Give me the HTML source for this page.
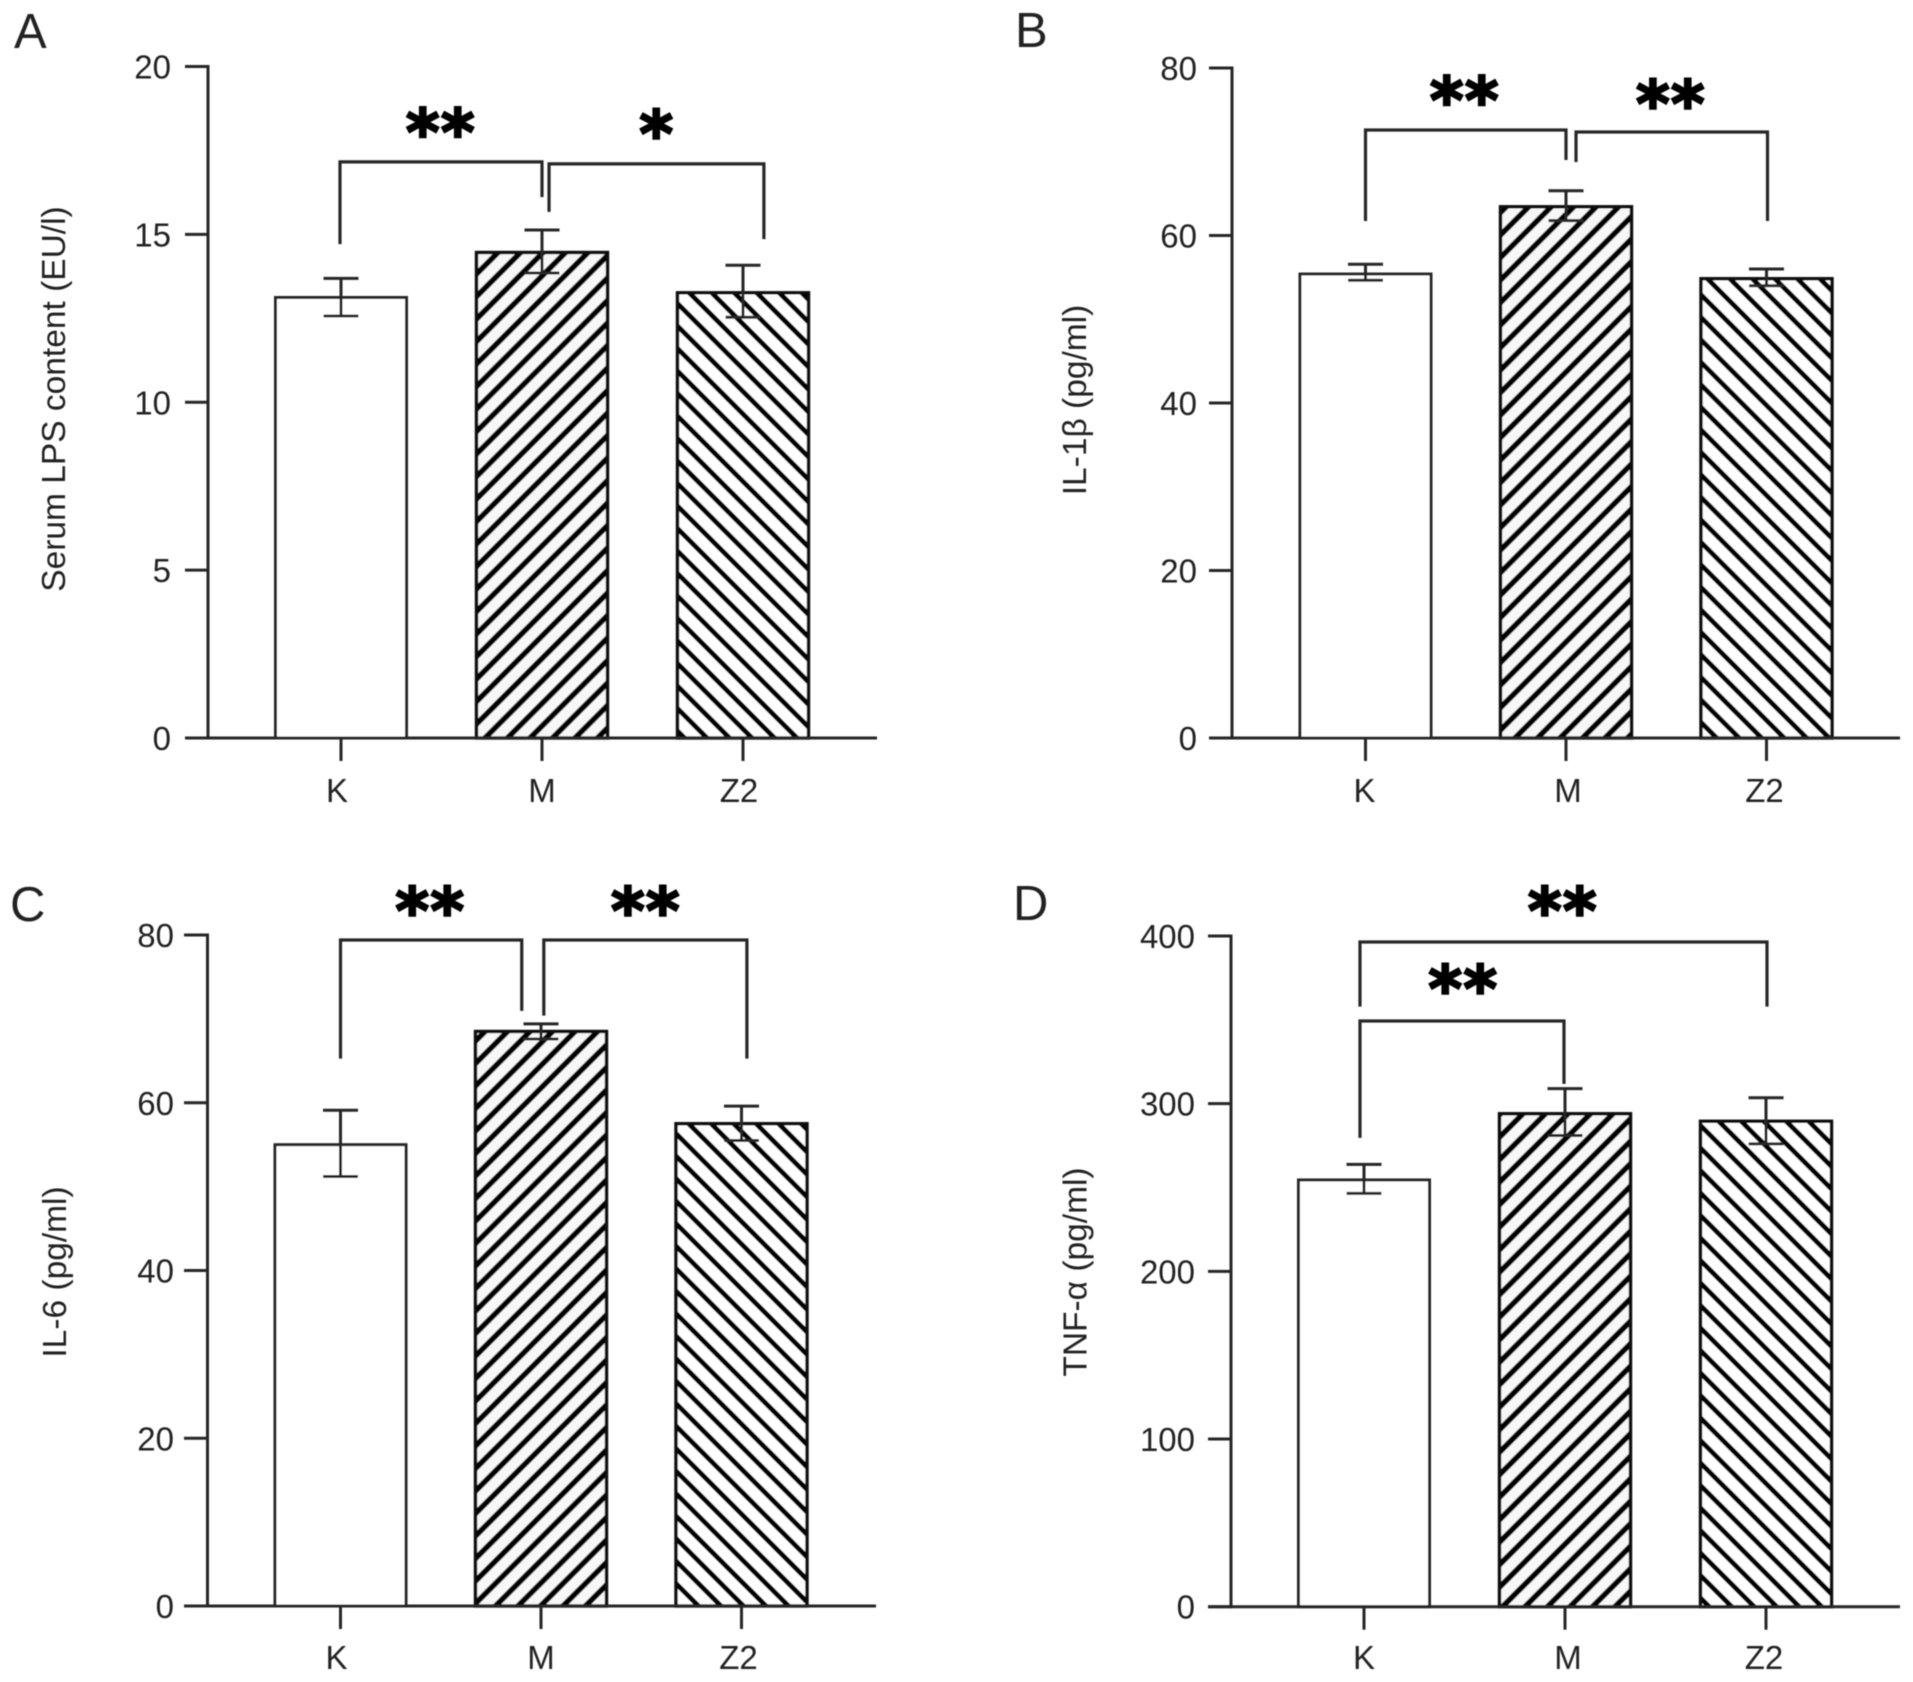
<!DOCTYPE html>
<html lang="en">
<head>
<meta charset="utf-8">
<title>Serum LPS and cytokine bar charts</title>
<style>
html,body{margin:0;padding:0;background:#fff;}
svg{display:block;}
text{font-family:"Liberation Sans",Arial,sans-serif;fill:#222;}
.star{font-family:"DejaVu Sans",sans-serif;font-weight:bold;fill:#000;stroke:#000;stroke-width:2.4;letter-spacing:1.5px;}
</style>
</head>
<body>
<svg id="figure" xmlns="http://www.w3.org/2000/svg" width="1913" height="1682" viewBox="0 0 1913 1682">
  <defs>
    <filter id="soft" x="-2%" y="-2%" width="104%" height="104%"><feGaussianBlur stdDeviation="0.6"/></filter>
  </defs>
  <rect width="1913" height="1682" fill="#fff"/>
  <g id="plot-root" filter="url(#soft)"></g>
</svg>
<script>
const categories = ['K', 'M', 'Z2'];

const panelAMeans = [13.12, 14.46, 13.26];
const panelAUpper = [13.69, 15.13, 14.08];
const panelALower = [12.57, 13.85, 12.53];
const panelATicks = [0, 5, 10, 15, 20];

const panelBMeans = [55.4, 63.43, 54.84];
const panelBUpper = [56.57, 65.35, 56.0];
const panelBLower = [54.65, 61.77, 54.0];
const panelBTicks = [0, 20, 40, 60, 80];

const panelCMeans = [55.0, 68.5, 57.5];
const panelCUpper = [59.1, 69.4, 59.6];
const panelCLower = [51.2, 67.6, 55.5];
const panelCTicks = [0, 20, 40, 60, 80];

const panelDMeans = [254.5, 294, 289.5];
const panelDUpper = [263.8, 309, 303.5];
const panelDLower = [246.5, 281, 276];
const panelDTicks = [0, 100, 200, 300, 400];

/* Significance brackets: [from category, to category, top value, left foot value, right foot value] */
const panelABrackets = [[-0.005, 1.0, 17.16, 14.71, 16.11], [1.035, 2.104, 17.10, 15.67, 14.86]];
const panelBBrackets = [[0, 1.0, 72.6, 61.73, 69.01], [1.05, 2.005, 72.36, 68.78, 61.73]];
const panelCBrackets = [[0, 0.904, 79.4, 65.26, 70.96], [1.014, 2.027, 79.4, 70.39, 65.26]];
const panelDBrackets = [[-0.02, 2.005, 396.4, 357.9, 357.9], [-0.02, 0.995, 349.3, 279.6, 311.8]];

/* Significance marks: [label, category position, value] */
const panelAStars = [['**', 0.4975, 18.36], ['*', 1.572, 18.32]];
const panelBStars = [['**', 0.496, 77.46], ['**', 1.524, 77.06]];
const panelCStars = [['**', 0.449, 84.2], ['**', 1.524, 84.2]];
const panelDStars = [['**', 0.99, 421.5], ['**', 0.495, 375.0]];

const panels = [
  {id: 'a', letter: 'A', title: 'Serum LPS content (EU/l)', means: panelAMeans, upper: panelAUpper, lower: panelALower, ticks: panelATicks, brackets: panelABrackets, stars: panelAStars,
   axisX: 208, leftTick: 185, axisEnd: 877, y0: 738, yTop: 66.5, max: 20, x0: 341, step: 201, labelRight: 171, titleX: 54, titleY: 399, letterX: 14, letterY: 48, labelY: 802, labelDx: [-4, 0, -4], hatchM: 8, hatchZ: 14},
  {id: 'b', letter: 'B', title: 'IL-1β (pg/ml)', means: panelBMeans, upper: panelBUpper, lower: panelBLower, ticks: panelBTicks, brackets: panelBBrackets, stars: panelBStars,
   axisX: 1232, leftTick: 1209, axisEnd: 1900, y0: 738, yTop: 68, max: 80, x0: 1365.5, step: 200.5, labelRight: 1197, titleX: 1075, titleY: 400, letterX: 1015, letterY: 47, labelDx: [-1, 2, -2], labelY: 802, hatchM: 3, hatchZ: 11.2},
  {id: 'c', letter: 'C', title: 'IL-6 (pg/ml)', means: panelCMeans, upper: panelCUpper, lower: panelCLower, ticks: panelCTicks, brackets: panelCBrackets, stars: panelCStars,
   axisX: 207.5, leftTick: 184, axisEnd: 876, y0: 1606, yTop: 935, max: 80, x0: 340.5, step: 200.5, labelRight: 174, titleX: 55, titleY: 1272, letterX: 10, letterY: 921, labelY: 1669, labelDx: [-4, 0, -3], hatchM: 9, hatchZ: 15},
  {id: 'd', letter: 'D', title: 'TNF-α (pg/ml)', means: panelDMeans, upper: panelDUpper, lower: panelDLower, ticks: panelDTicks, brackets: panelDBrackets, stars: panelDStars,
   axisX: 1231, leftTick: 1208, axisEnd: 1900, y0: 1606.7, yTop: 936, max: 400, x0: 1364, step: 201, labelRight: 1195, titleX: 1075.5, titleY: 1272, letterX: 1013, letterY: 920, labelY: 1669, labelDx: [0, 3, -2], hatchM: 4.2, hatchZ: 12.5}
];

const SVG_NS = 'http://www.w3.org/2000/svg';
const INK = '#262626';
const BAR_WIDTH = 131;
const CAP_HALF = 17.5;
const HATCH_PERIOD = 22.5;
const FONT_SIZE = 33;
const TITLE_SIZE = 33.5;
const LETTER_SIZE = 49;
const STAR_SIZE = 64;

const svg = document.getElementById('figure');
const defs = svg.querySelector('defs');
const root = document.getElementById('plot-root');

function make(tag, attrs, parent) {
  const el = document.createElementNS(SVG_NS, tag);
  for (const k in attrs) el.setAttribute(k, attrs[k]);
  parent.appendChild(el);
  return el;
}

function addHatch(id, angle, offset, stripe, bg) {
  const perp = HATCH_PERIOD / Math.SQRT2;
  const pat = make('pattern', {
    id: id, patternUnits: 'userSpaceOnUse', width: perp, height: perp,
    patternTransform: 'translate(' + offset + ' 0) rotate(' + angle + ')'
  }, defs);
  make('rect', {x: 0, y: 0, width: perp, height: perp, fill: bg}, pat);
  make('rect', {x: -stripe / 2, y: 0, width: stripe, height: perp, fill: '#000'}, pat);
  make('rect', {x: perp - stripe / 2, y: 0, width: stripe, height: perp, fill: '#000'}, pat);
}

function drawPanel(p) {
  const x = function (c) { return p.x0 + c * p.step; };
  const y = function (v) { return p.y0 - (v / p.max) * (p.y0 - p.yTop); };

  const g = make('g', {}, root);
  
  

  const letter = make('text', {x: p.letterX, y: p.letterY, 'font-size': LETTER_SIZE}, g);
  letter.textContent = p.letter;
  
  

  const title = make('text', {
    x: p.titleX + 11, y: p.titleY, 'font-size': TITLE_SIZE, 'text-anchor': 'middle',
    transform: 'rotate(-90 ' + (p.titleX + 11) + ' ' + p.titleY + ')'
  }, g);
  title.textContent = p.title;
  
  

  addHatch('hatch-m-' + p.id, 45, p.hatchM, 5.5, '#f7f7f7');
  addHatch('hatch-z-' + p.id, -45, p.hatchZ, 5.0, '#ffffff');
  const fills = ['#ffffff', 'url(#hatch-m-' + p.id + ')', 'url(#hatch-z-' + p.id + ')'];

  p.means.forEach(function (value, i) {
    const top = y(value);
    const bar = make('rect', {
      x: x(i) - BAR_WIDTH / 2, y: top, width: BAR_WIDTH, height: p.y0 - top,
      fill: fills[i], stroke: i === 0 ? INK : '#111', 'stroke-width': i === 0 ? 3 : 3.4
    }, g);
    
    
  });

  p.means.forEach(function (value, i) {
    const cx = x(i);
    const hi = y(p.upper[i]);
    const lo = y(p.lower[i]);
    const err = make('path', {
      d: 'M' + (cx - CAP_HALF) + ' ' + hi + 'H' + (cx + CAP_HALF) +
         'M' + cx + ' ' + hi + 'V' + lo +
         'M' + (cx - CAP_HALF) + ' ' + lo + 'H' + (cx + CAP_HALF),
      fill: 'none', stroke: INK, 'stroke-width': 3
    }, g);
    
    
  });

  const yAxis = make('line', {x1: p.axisX, x2: p.axisX, y1: y(p.max) - 1.5, y2: p.y0 + 1.5, stroke: INK, 'stroke-width': 3}, g);
  
  

  const xAxis = make('line', {x1: p.leftTick, x2: p.axisEnd, y1: p.y0, y2: p.y0, stroke: INK, 'stroke-width': 3}, g);
  
  

  p.ticks.forEach(function (t) {
    const tick = make('line', {x1: p.leftTick, x2: p.axisX, y1: y(t), y2: y(t), stroke: INK, 'stroke-width': 3}, g);
    
    
    const label = make('text', {x: p.labelRight, y: y(t) + 12, 'font-size': FONT_SIZE, 'text-anchor': 'end'}, g);
    label.textContent = String(t);
    
    
  });

  categories.forEach(function (name, i) {
    const tick = make('line', {x1: x(i), x2: x(i), y1: p.y0, y2: p.y0 + 23, stroke: INK, 'stroke-width': 3}, g);
    
    
    const label = make('text', {x: x(i) + p.labelDx[i], y: p.labelY, 'font-size': FONT_SIZE, 'text-anchor': 'middle'}, g);
    label.textContent = name;
    
    
  });

  p.brackets.forEach(function (b, i) {
    const path = make('path', {
      d: 'M' + x(b[0]) + ' ' + y(b[3]) + 'V' + y(b[2]) + 'H' + x(b[1]) + 'V' + y(b[4]),
      fill: 'none', stroke: INK, 'stroke-width': 3.2
    }, g);
    
    
  });

  p.stars.forEach(function (s, i) {
    const star = make('text', {
      x: x(s[1]), y: y(s[2]) + 66 * 0.51, 'font-size': STAR_SIZE, 'text-anchor': 'middle'
    }, g);
    star.setAttribute('class', 'star');
    star.textContent = s[0];
    
    
  });
}

panels.forEach(drawPanel);
</script>
</body>
</html>
